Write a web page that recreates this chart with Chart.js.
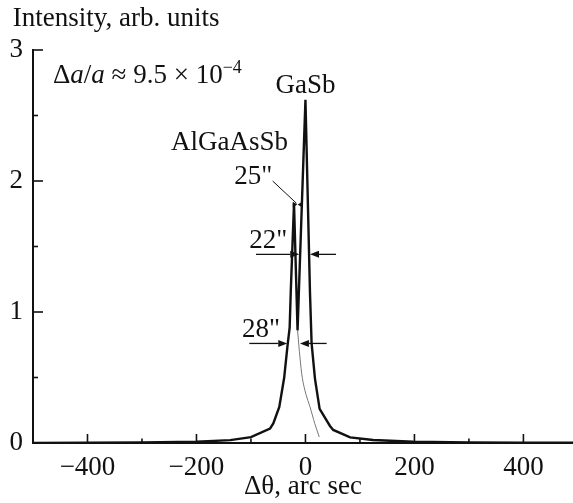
<!DOCTYPE html>
<html>
<head>
<meta charset="utf-8">
<script src="https://cdn.jsdelivr.net/npm/chart.js@4.4.1/dist/chart.umd.min.js"></script>
<style>
  html, body { margin: 0; padding: 0; background: #fff; }
  canvas { display: block; }
</style>
</head>
<body>
<canvas id="rc" width="573" height="503"></canvas>
<script>
// Rocking curve: measured profile (GaSb substrate + AlGaAsSb layer)
const thetaMeasured = [-500, -400, -300, -200, -138, -100, -65, -59, -48, -39, -33, -29, -27, -21, -14.5, 0, 8.3, 11.3, 17.5, 26, 45, 51, 82, 124, 198, 300, 400, 491];
const intensityMeasured = [0.001, 0.002, 0.004, 0.01, 0.022, 0.045, 0.11, 0.15, 0.275, 0.5, 0.74, 0.88, 1.15, 1.83, 0.86, 2.62, 1.15, 0.76, 0.49, 0.26, 0.13, 0.1, 0.043, 0.023, 0.01, 0.005, 0.003, 0.002];

// Decomposed tail of the layer peak under the substrate peak
const thetaLayerTail = [-14.5, -10, -5.5, 1, 8.3, 17, 25.3];
const intensityLayerTail = [0.86, 0.65, 0.49, 0.37, 0.277, 0.15, 0.046];

// Axis ticks
const xTickValues = [-400, -200, 0, 200, 400];
const xMinorTicks = [-300, -100, 100, 300];
const yTickValues = [0, 1, 2, 3];
const yMinorTicks = [0.5, 1.5, 2.5];

const INK = '#111';
const SERIF = "'Liberation Serif', 'Times New Roman', serif";
const font = (size, style) => ({ family: SERIF, size: size, style: style || 'normal', lineHeight: 1.2 });

const toPoints = (xs, ys) => xs.map((v, i) => ({ x: v, y: ys[i] }));

// Double-headed width markers, labels and inward ticks
const figureMarks = {
  id: 'figureMarks',
  afterDatasetsDraw(chart) {
    const { ctx, chartArea: a, scales: { x, y } } = chart;
    const px = v => x.getPixelForValue(v);
    const py = v => y.getPixelForValue(v);

    ctx.save();
    ctx.strokeStyle = INK;
    ctx.fillStyle = INK;

    // inward tick marks
    ctx.lineWidth = 1.6;
    const seg = (x0, y0, x1, y1) => { ctx.beginPath(); ctx.moveTo(x0, y0); ctx.lineTo(x1, y1); ctx.stroke(); };
    xTickValues.forEach(v => seg(px(v), a.bottom, px(v), a.bottom - 9));
    xMinorTicks.forEach(v => seg(px(v), a.bottom, px(v), a.bottom - 4.5));
    yTickValues.forEach(v => seg(a.left, py(v), a.left + 10, py(v)));
    yMinorTicks.forEach(v => seg(a.left, py(v), a.left + 5, py(v)));

    // arrows
    const arrow = (x0, y0, x1, y1, len, half) => {
      ctx.lineWidth = 1.3;
      const ang = Math.atan2(y1 - y0, x1 - x0);
      const bx = x1 - len * Math.cos(ang), by = y1 - len * Math.sin(ang);
      seg(x0, y0, bx, by);
      ctx.beginPath();
      ctx.moveTo(x1, y1);
      ctx.lineTo(bx + half * Math.sin(ang), by - half * Math.cos(ang));
      ctx.lineTo(bx - half * Math.sin(ang), by + half * Math.cos(ang));
      ctx.closePath();
      ctx.fill();
    };

    // 22" width of the substrate peak
    arrow(px(-90.8), py(1.44), px(-11.4), py(1.44), 9, 3.5);
    arrow(px(56), py(1.44), px(8.3), py(1.44), 9, 3.5);
    // 28" width of the layer peak
    arrow(px(-103), py(0.76), px(-33.4), py(0.76), 9, 3.5);
    arrow(px(38.9), py(0.76), px(-10.1), py(0.76), 9, 3.5);
    // 25" marker at the layer peak top
    arrow(px(-23), py(1.82), px(-15), py(1.82), 4.5, 2.8);
    arrow(px(-6.4), py(1.82), px(-14.2), py(1.82), 4.5, 2.8);
    ctx.lineWidth = 1;
    seg(px(-60.2), py(2.0), px(-16.5), py(1.83));

    // text labels
    ctx.textBaseline = 'alphabetic';
    ctx.font = "27px " + SERIF;
    ctx.textAlign = 'center';
    ctx.fillText('GaSb', px(0), py(2.67));
    ctx.textAlign = 'right';
    ctx.fillText('AlGaAsSb', px(-32), py(2.24));
    ctx.fillText('25"', px(-61), py(1.98));
    ctx.fillText('22"', px(-33.4), py(1.486));
    ctx.fillText('28"', px(-46.8), py(0.81));

    // axis caption and lattice mismatch
    ctx.textAlign = 'left';
    ctx.fillText('Intensity, arb. units', 12.7, 26);

    const runs = [
      ['\u0394', 'normal', 27, 0],
      ['a', 'italic', 27, 0],
      ['/', 'normal', 27, 0],
      ['a', 'italic', 27, 0],
      [' \u2248 9.5 \u00d7 10', 'normal', 27, 0],
      ['\u22124', 'normal', 18, -10]
    ];
    let cx = a.left + 20;
    const base = 83;
    runs.forEach(([t, st, sz, dy]) => {
      ctx.font = (st === 'italic' ? 'italic ' : '') + sz + 'px ' + SERIF;
      ctx.fillText(t, cx, base + dy);
      cx += ctx.measureText(t).width;
    });

    ctx.restore();
  }
};

new Chart(document.getElementById('rc'), {
  type: 'line',
  data: {
    datasets: [
      {
        label: 'measured',
        data: toPoints(thetaMeasured, intensityMeasured),
        borderColor: INK,
        borderWidth: 2.4,
        pointRadius: 0,
        tension: 0,
        fill: false,
        borderJoinStyle: 'miter'
      },
      {
        label: 'layer tail',
        data: toPoints(thetaLayerTail, intensityLayerTail),
        borderColor: '#777',
        borderWidth: 1,
        pointRadius: 0,
        tension: 0.3,
        fill: false
      }
    ]
  },
  options: {
    responsive: false,
    animation: false,
    devicePixelRatio: 1,
    layout: { padding: { top: 50, right: 0, bottom: 0, left: 0 } },
    plugins: { legend: { display: false }, tooltip: { enabled: false } },
    scales: {
      x: {
        type: 'linear',
        min: -500,
        max: 491,
        grid: { display: false, drawTicks: false },
        border: { display: true, color: INK, width: 2 },
        afterBuildTicks: s => { s.ticks = xTickValues.map(v => ({ value: v })); },
        afterFit: s => { s.height = 60; },
        ticks: {
          font: font(27),
          color: INK,
          padding: 9,
          maxRotation: 0,
          autoSkip: false,
          callback: v => (v < 0 ? '\u2212' + Math.abs(v) : String(v))
        },
        title: { display: true, text: '\u0394\u03b8, arc sec', font: font(27), color: INK, padding: 0 }
      },
      y: {
        min: 0,
        max: 3,
        grid: { display: false, drawTicks: false },
        border: { display: true, color: INK, width: 2 },
        afterBuildTicks: s => { s.ticks = yTickValues.map(v => ({ value: v })); },
        afterFit: s => { s.width = 33; },
        ticks: { font: font(27), color: INK, padding: 10 }
      }
    }
  },
  plugins: [figureMarks]
});
</script>
</body>
</html>
